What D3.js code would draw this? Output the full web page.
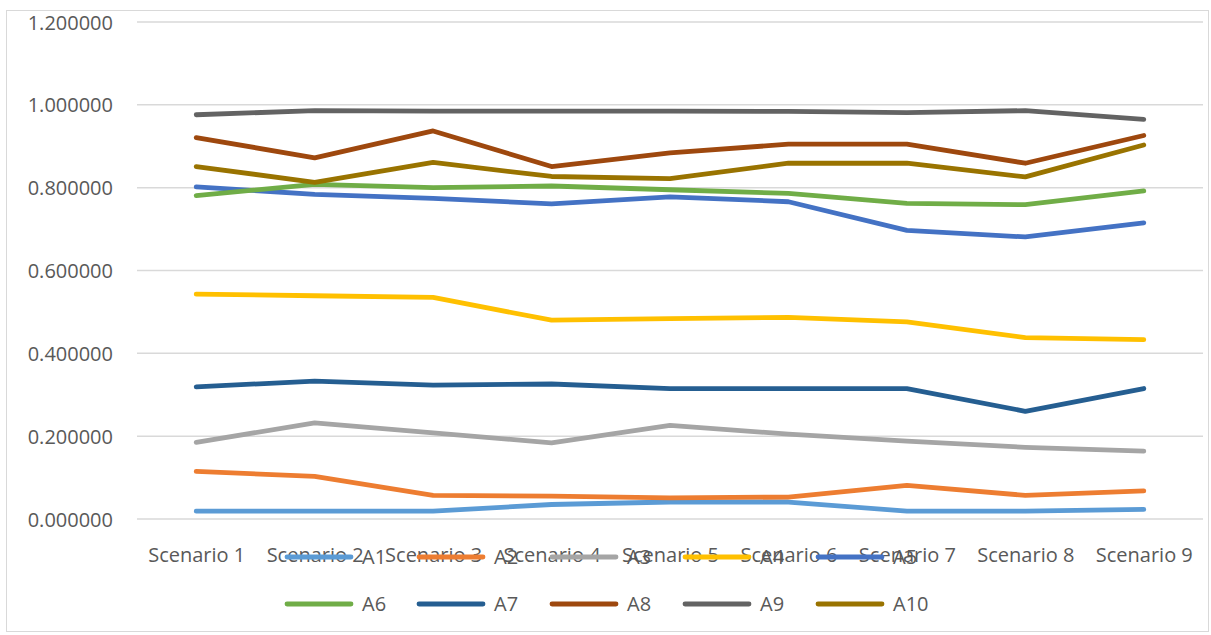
<!DOCTYPE html>
<html><head><meta charset="utf-8">
<script src="https://cdn.jsdelivr.net/npm/d3@7"></script>
<style>html,body{margin:0;padding:0;background:#fff;}svg{display:block;}</style>
</head><body>
<svg id="chart" width="1211" height="635"></svg>
<script>
const categories = ["Scenario 1","Scenario 2","Scenario 3","Scenario 4","Scenario 5","Scenario 6","Scenario 7","Scenario 8","Scenario 9"];
const seriesNames = ["A1","A2","A3","A4","A5","A6","A7","A8","A9","A10"];
const A1  = [0.019,0.019,0.019,0.035,0.041,0.041,0.019,0.019,0.023];
const A2  = [0.115,0.103,0.057,0.055,0.051,0.053,0.081,0.057,0.068];
const A3  = [0.185,0.232,0.208,0.184,0.226,0.205,0.188,0.173,0.164];
const A4  = [0.543,0.539,0.535,0.480,0.484,0.487,0.476,0.438,0.433];
const A5  = [0.802,0.784,0.774,0.761,0.778,0.766,0.697,0.681,0.715];
const A6  = [0.781,0.808,0.800,0.804,0.795,0.786,0.762,0.759,0.792];
const A7  = [0.319,0.333,0.323,0.326,0.315,0.315,0.315,0.260,0.315];
const A8  = [0.921,0.872,0.937,0.851,0.884,0.905,0.905,0.859,0.926];
const A9  = [0.976,0.986,0.985,0.985,0.985,0.984,0.981,0.986,0.965];
const A10 = [0.851,0.813,0.861,0.827,0.822,0.859,0.859,0.826,0.903];
const seriesValues = [A1,A2,A3,A4,A5,A6,A7,A8,A9,A10];
const colors = ["#5B9BD5","#ED7D31","#A5A5A5","#FFC000","#4472C4","#70AD47","#255E91","#9E480E","#636363","#997300"];
const yTicks = [0,0.2,0.4,0.6,0.8,1.0,1.2];

const svg = d3.select("#chart");
const font = "'Open Sans', sans-serif";
const textColor = "#595959";

// chart border
svg.append("rect").attr("x",6.5).attr("y",10.5).attr("width",1202).attr("height",621)
  .attr("fill","#fff").attr("stroke","#d9d9d9").attr("stroke-width",1);

const x = d3.scalePoint().domain(categories).range([137,1203]).padding(0.5);
const y = d3.scaleLinear().domain([0,1.2]).range([519,22]);

// gridlines
svg.append("g").selectAll("line").data(yTicks).join("line")
  .attr("x1",137).attr("x2",1203)
  .attr("y1",d=>y(d)).attr("y2",d=>y(d))
  .attr("stroke","#d9d9d9").attr("stroke-width",1.5);

// y axis labels
const yAxis = d3.axisLeft(y).tickValues(yTicks).tickFormat(d3.format(".6f")).tickSize(0).tickPadding(0);
const gy = svg.append("g").attr("transform","translate(113,0)").call(yAxis);
gy.select(".domain").remove();
gy.selectAll("text").attr("font-family",font).attr("font-size","20px").attr("fill",textColor).attr("dy","0.35em");

// x axis labels
const xAxis = d3.axisBottom(x).tickSize(0).tickPadding(0);
const gx = svg.append("g").attr("transform","translate(0,548)").call(xAxis);
gx.select(".domain").remove();
gx.selectAll("text").attr("font-family",font).attr("font-size","20px").attr("fill",textColor).attr("dy","0.71em");

// lines
const line = d3.line().x((d,i)=>x(categories[i])).y(d=>y(d));
svg.append("g").selectAll("path").data(seriesValues).join("path")
  .attr("d",d=>line(d)).attr("fill","none")
  .attr("stroke",(d,i)=>colors[i]).attr("stroke-width",4.8)
  .attr("stroke-linecap","round").attr("stroke-linejoin","round");

// legend
const legendX = [287,419,552,685,818];
const legendY = [557,604];
const lg = svg.append("g").selectAll("g").data(seriesNames).join("g")
  .attr("transform",(d,i)=>`translate(${legendX[i%5]},${legendY[Math.floor(i/5)]})`);
lg.append("line").attr("x1",0).attr("x2",64).attr("y1",0).attr("y2",0)
  .attr("stroke",(d,i)=>colors[i]).attr("stroke-width",4.8).attr("stroke-linecap","round");
lg.append("text").attr("x",75).attr("y",0).attr("dy","0.35em")
  .attr("font-family",font).attr("font-size","20px").attr("fill",textColor).text(d=>d);
</script>
</body></html>
